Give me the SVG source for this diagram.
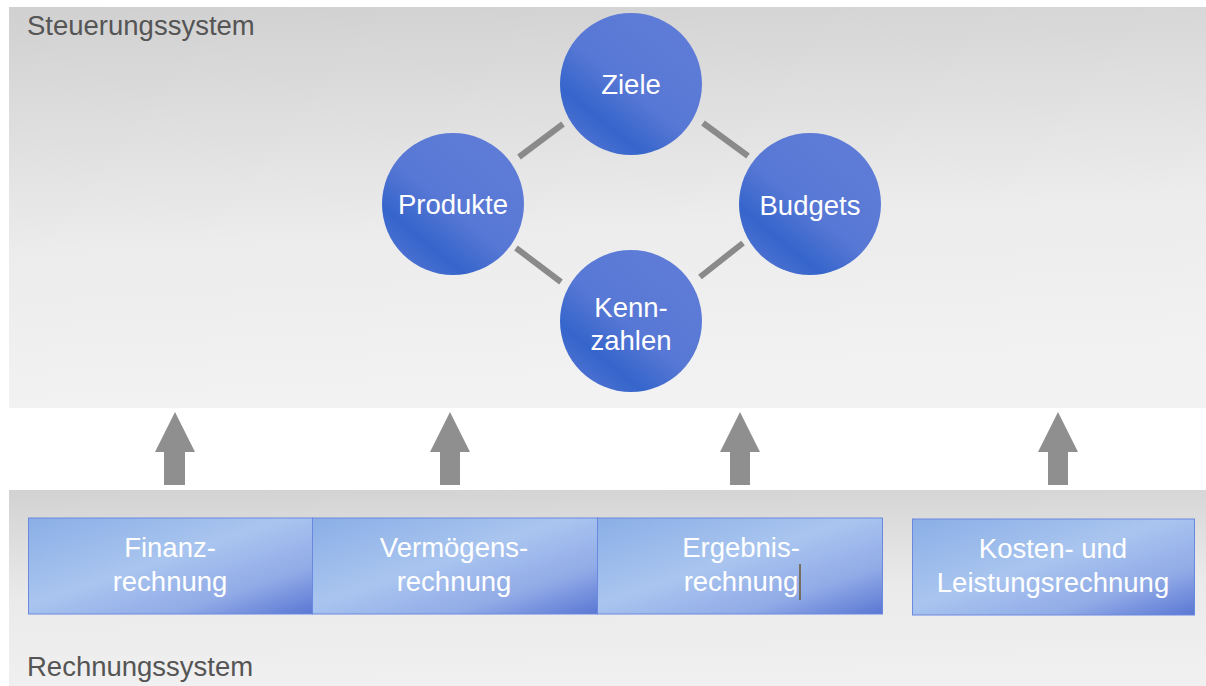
<svg xmlns="http://www.w3.org/2000/svg" width="1206" height="686" viewBox="0 0 1206 686">
<defs>
<linearGradient id="bgTop" x1="0" y1="0" x2="0.15" y2="1">
<stop offset="0" stop-color="#d0d0d0"/>
<stop offset="0.6" stop-color="#ececec"/>
<stop offset="1" stop-color="#f2f2f2"/>
</linearGradient>
<linearGradient id="bgBot" x1="0" y1="0" x2="0.1" y2="1">
<stop offset="0" stop-color="#d2d2d2"/>
<stop offset="0.55" stop-color="#eaeaea"/>
<stop offset="1" stop-color="#f0f0f0"/>
</linearGradient>
<linearGradient id="circ" x1="0.85" y1="0.15" x2="0.2" y2="0.95">
<stop offset="0" stop-color="#5e7cd7"/>
<stop offset="0.5" stop-color="#5878d5"/>
<stop offset="0.8" stop-color="#3565cb"/>
<stop offset="1" stop-color="#4d71d1"/>
</linearGradient>
<linearGradient id="box" x1="0" y1="0" x2="1" y2="1">
<stop offset="0" stop-color="#8aaee6"/>
<stop offset="0.45" stop-color="#a9c5ef"/>
<stop offset="0.75" stop-color="#91abe7"/>
<stop offset="1" stop-color="#5a77d3"/>
</linearGradient>
</defs>
<style>
.lbl{font-family:"Liberation Sans",Arial,sans-serif;font-size:27.5px;fill:#ffffff;text-anchor:middle}
.ttl{font-family:"Liberation Sans",Arial,sans-serif;font-size:27.5px;fill:#555555}
.node circle{fill:url(#circ)}
.bx rect{fill:url(#box);stroke:#6a88e0;stroke-width:1}
.conn line{stroke:#8a8a8a;stroke-width:6}
.arr{fill:#8f8f8f}
</style>
<rect x="0" y="0" width="1206" height="686" fill="#ffffff"/>
<rect x="9" y="7" width="1197" height="401" fill="url(#bgTop)"/>
<rect x="9" y="490" width="1197" height="196" fill="url(#bgBot)"/>
<text class="ttl" x="27" y="35">Steuerungssystem</text>
<text class="ttl" x="27" y="676">Rechnungssystem</text>
<g id="connectors" class="conn">
<line x1="519" y1="157" x2="563" y2="124"/>
<line x1="703" y1="123" x2="748" y2="156"/>
<line x1="516" y1="248" x2="561" y2="282"/>
<line x1="743" y1="243" x2="700" y2="277"/>
</g>
<g id="ziele" class="node"><circle cx="631" cy="84" r="71"/><text class="lbl" x="631" y="94">Ziele</text></g>
<g id="produkte" class="node"><circle cx="453" cy="204" r="71"/><text class="lbl" x="453" y="214">Produkte</text></g>
<g id="budgets" class="node"><circle cx="810" cy="204" r="71"/><text class="lbl" x="810" y="215">Budgets</text></g>
<g id="kennzahlen" class="node"><circle cx="631" cy="321" r="71"/><text class="lbl" x="631" y="317">Kenn-</text><text class="lbl" x="631" y="350">zahlen</text></g>
<g id="arrows">
<polygon class="arr" points="175,412 195,452 185,452 185,485 164,485 164,452 155,452"/>
<polygon class="arr" points="450,412 470,452 460,452 460,485 440,485 440,452 430,452"/>
<polygon class="arr" points="740,412 760,452 750,452 750,485 730,485 730,452 720,452"/>
<polygon class="arr" points="1058,412 1078,452 1068,452 1068,485 1048,485 1048,452 1038,452"/>
</g>
<g id="finanz" class="bx"><rect x="28.5" y="518" width="284" height="96"/><text class="lbl" x="170" y="557">Finanz-</text><text class="lbl" x="170" y="591">rechnung</text></g>
<g id="vermoegens" class="bx"><rect x="312.5" y="518" width="285" height="96"/><text class="lbl" x="454" y="557">Vermögens-</text><text class="lbl" x="454" y="591">rechnung</text></g>
<g id="ergebnis" class="bx"><rect x="597.5" y="518" width="285" height="96"/><text class="lbl" x="741" y="557">Ergebnis-</text><text class="lbl" x="741" y="591">rechnung</text><line x1="800" y1="564" x2="800" y2="600" stroke="#6b5a35" stroke-width="1.5"/></g>
<g id="kosten" class="bx"><rect x="912.5" y="519" width="282" height="96"/><text class="lbl" x="1053" y="558">Kosten- und</text><text class="lbl" x="1053" y="592">Leistungsrechnung</text></g>
</svg>
